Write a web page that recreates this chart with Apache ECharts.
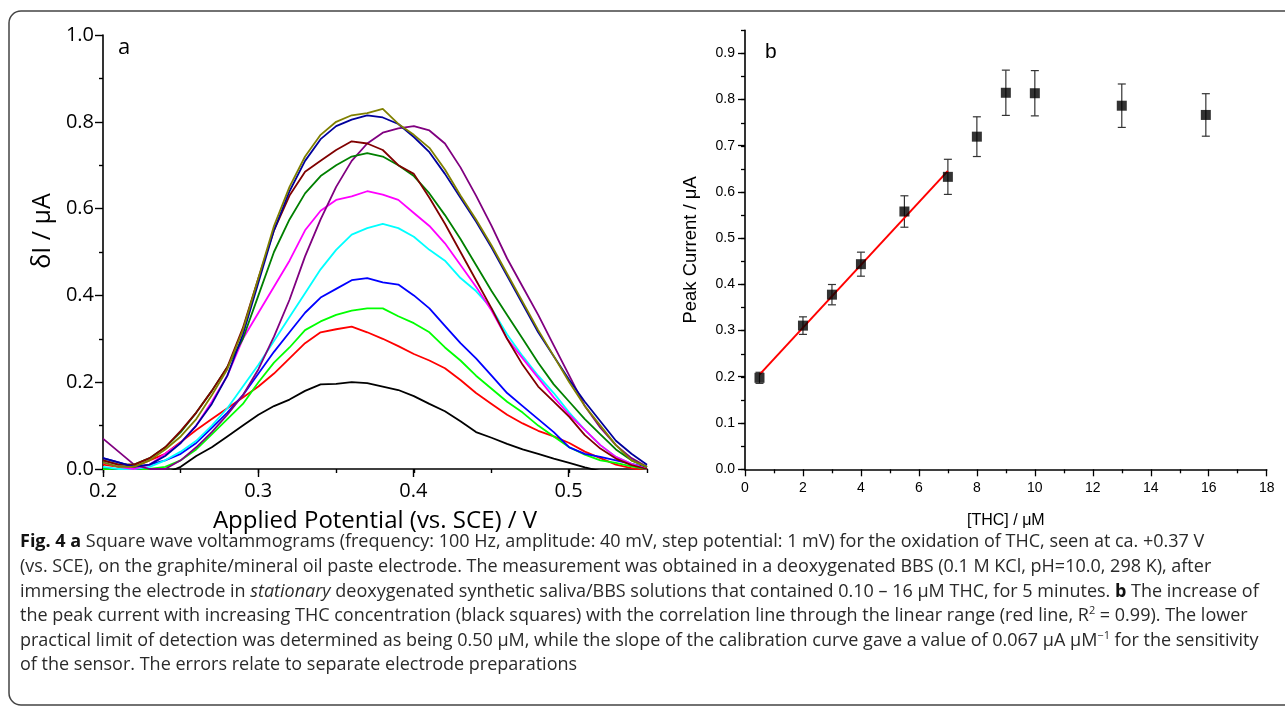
<!DOCTYPE html>
<html>
<head>
<meta charset="utf-8">
<title>Fig. 4</title>
<script src="https://cdn.jsdelivr.net/npm/echarts/dist/echarts.min.js"></script>
<style>
  html, body { margin: 0; padding: 0; background: #fff; }
  #main { width: 1285px; height: 709px; }
</style>
</head>
<body>
<div id="main"></div>
<script>
// panel a: square wave voltammograms, potential in V, current in uA
var potential = [0.20, 0.21, 0.22, 0.23, 0.24, 0.25, 0.26, 0.27, 0.28, 0.29,
                 0.30, 0.31, 0.32, 0.33, 0.34, 0.35, 0.36, 0.37, 0.38, 0.39,
                 0.40, 0.41, 0.42, 0.43, 0.44, 0.45, 0.46, 0.47, 0.48, 0.49,
                 0.50, 0.51, 0.52, 0.53, 0.54, 0.55];
var curveBlack = [-0.02, -0.02, -0.02, -0.02, -0.01, 0.005, 0.03, 0.05, 0.075, 0.10,
                  0.125, 0.145, 0.16, 0.18, 0.195, 0.196, 0.20, 0.198, 0.19, 0.182,
                  0.168, 0.15, 0.133, 0.11, 0.085, 0.072, 0.058, 0.045, 0.035, 0.024,
                  0.014, 0.004, -0.005, -0.01, -0.01, -0.01];
var curveRed = [0.01, 0.005, 0.005, 0.02, 0.035, 0.062, 0.09, 0.115, 0.14, 0.165,
                0.19, 0.22, 0.255, 0.29, 0.315, 0.322, 0.328, 0.315, 0.30, 0.283,
                0.265, 0.25, 0.232, 0.205, 0.175, 0.15, 0.125, 0.105, 0.088, 0.075,
                0.06, 0.04, 0.025, 0.01, 0.002, -0.005];
var curveLime = [0.0, -0.005, -0.005, 0.0, 0.005, 0.02, 0.045, 0.08, 0.115, 0.15,
                 0.20, 0.245, 0.28, 0.32, 0.34, 0.355, 0.365, 0.37, 0.37, 0.352,
                 0.336, 0.315, 0.28, 0.25, 0.215, 0.185, 0.155, 0.13, 0.10, 0.075,
                 0.05, 0.033, 0.02, 0.014, 0.006, 0.0];
var curveBlue = [0.025, 0.015, 0.005, 0.01, 0.02, 0.035, 0.06, 0.095, 0.13, 0.17,
                 0.22, 0.27, 0.315, 0.36, 0.395, 0.415, 0.435, 0.44, 0.43, 0.425,
                 0.40, 0.37, 0.33, 0.29, 0.255, 0.215, 0.175, 0.145, 0.115, 0.085,
                 0.05, 0.035, 0.028, 0.02, 0.012, 0.004];
var curveCyan = [0.005, 0.0, 0.0, 0.005, 0.02, 0.04, 0.065, 0.10, 0.14, 0.19,
                 0.24, 0.295, 0.35, 0.405, 0.46, 0.505, 0.54, 0.555, 0.565, 0.555,
                 0.535, 0.505, 0.48, 0.44, 0.41, 0.37, 0.31, 0.26, 0.215, 0.175,
                 0.13, 0.09, 0.055, 0.028, 0.012, 0.0];
var curveMagenta = [0.015, 0.005, 0.0, 0.01, 0.035, 0.06, 0.10, 0.155, 0.215, 0.30,
                    0.36, 0.42, 0.48, 0.55, 0.595, 0.62, 0.628, 0.64, 0.632, 0.62,
                    0.59, 0.56, 0.52, 0.47, 0.42, 0.365, 0.30, 0.255, 0.21, 0.165,
                    0.125, 0.09, 0.055, 0.028, 0.012, 0.0];
var curvePurple = [0.07, 0.04, 0.01, 0.0, 0.0, 0.02, 0.05, 0.085, 0.125, 0.17,
                   0.23, 0.305, 0.39, 0.49, 0.575, 0.65, 0.71, 0.75, 0.775, 0.785,
                   0.79, 0.78, 0.75, 0.695, 0.63, 0.56, 0.485, 0.42, 0.355, 0.285,
                   0.215, 0.145, 0.095, 0.055, 0.025, 0.005];
var curveGreen = [0.02, 0.01, 0.01, 0.025, 0.05, 0.085, 0.13, 0.18, 0.235, 0.30,
                  0.40, 0.50, 0.575, 0.635, 0.675, 0.70, 0.72, 0.728, 0.72, 0.70,
                  0.675, 0.635, 0.585, 0.53, 0.47, 0.41, 0.355, 0.30, 0.245, 0.195,
                  0.155, 0.115, 0.08, 0.045, 0.02, 0.005];
var curveMaroon = [0.02, 0.01, 0.01, 0.025, 0.05, 0.088, 0.13, 0.18, 0.235, 0.325,
                   0.44, 0.55, 0.63, 0.685, 0.71, 0.735, 0.755, 0.75, 0.735, 0.70,
                   0.68, 0.625, 0.565, 0.50, 0.435, 0.37, 0.30, 0.24, 0.19, 0.155,
                   0.12, 0.078, 0.047, 0.024, 0.009, 0.0];
var curveNavy = [0.025, 0.015, 0.005, 0.01, 0.03, 0.06, 0.10, 0.15, 0.215, 0.31,
                 0.43, 0.55, 0.64, 0.71, 0.76, 0.79, 0.805, 0.815, 0.81, 0.795,
                 0.765, 0.73, 0.68, 0.625, 0.57, 0.51, 0.445, 0.38, 0.315, 0.26,
                 0.205, 0.155, 0.11, 0.065, 0.035, 0.01];
var curveOlive = [0.015, 0.005, 0.005, 0.02, 0.045, 0.075, 0.115, 0.17, 0.23, 0.32,
                  0.44, 0.56, 0.65, 0.72, 0.77, 0.80, 0.815, 0.82, 0.83, 0.795,
                  0.77, 0.74, 0.69, 0.63, 0.575, 0.515, 0.45, 0.385, 0.32, 0.26,
                  0.20, 0.145, 0.10, 0.055, 0.02, 0.005];

// panel b: calibration
var thc = [0.5, 2, 3, 4, 5.5, 7, 8, 9, 10, 13, 15.9];
var peakCurrent = [0.198, 0.311, 0.378, 0.444, 0.558, 0.633, 0.720, 0.815, 0.814, 0.787, 0.767];
var peakError = [0.012, 0.019, 0.022, 0.026, 0.034, 0.038, 0.043, 0.049, 0.049, 0.047, 0.046];
var fitX = [0.5, 7];
var fitY = [0.205, 0.646];

var curves = [
  { data: curveBlack, color: '#000000' },
  { data: curveRed, color: '#ff0000' },
  { data: curveLime, color: '#00ff00' },
  { data: curveBlue, color: '#0000ff' },
  { data: curveCyan, color: '#00ffff' },
  { data: curveMagenta, color: '#ff00ff' },
  { data: curvePurple, color: '#800080' },
  { data: curveGreen, color: '#008000' },
  { data: curveMaroon, color: '#800000' },
  { data: curveNavy, color: '#00009c' },
  { data: curveOlive, color: '#808000' }
];

var fontA = '"Open Sans", "DejaVu Sans", sans-serif';
var fontB = '"Liberation Sans", Arial, sans-serif';
var axisLine = { show: true, lineStyle: { color: '#000', width: 1.6 } };

var chart = echarts.init(document.getElementById('main'));

var series = [];
curves.forEach(function (c, k) {
  series.push({
    type: 'line',
    xAxisIndex: 0,
    yAxisIndex: 0,
    symbol: 'none',
    z: 2 + k,
    lineStyle: { color: c.color, width: 1.8 },
    data: potential.map(function (p, i) { return [p, c.data[i]]; })
  });
});

series.push({
  type: 'custom',
  xAxisIndex: 2,
  yAxisIndex: 2,
  z: 5,
  data: thc.map(function (x, i) {
    return [x, peakCurrent[i] - peakError[i], peakCurrent[i] + peakError[i]];
  }),
  renderItem: function (params, api) {
    var hi = api.coord([api.value(0), api.value(2)]);
    var lo = api.coord([api.value(0), api.value(1)]);
    var st = { stroke: '#333', lineWidth: 1.2 };
    return {
      type: 'group',
      children: [
        { type: 'line', shape: { x1: hi[0], y1: hi[1], x2: lo[0], y2: lo[1] }, style: st },
        { type: 'line', shape: { x1: hi[0] - 4, y1: hi[1], x2: hi[0] + 4, y2: hi[1] }, style: st },
        { type: 'line', shape: { x1: lo[0] - 4, y1: lo[1], x2: lo[0] + 4, y2: lo[1] }, style: st }
      ]
    };
  }
});

series.push({
  type: 'line',
  xAxisIndex: 2,
  yAxisIndex: 2,
  symbol: 'none',
  z: 6,
  lineStyle: { color: '#ff0000', width: 2 },
  data: fitX.map(function (x, i) { return [x, fitY[i]]; })
});

series.push({
  type: 'scatter',
  xAxisIndex: 2,
  yAxisIndex: 2,
  symbol: 'rect',
  symbolSize: 10,
  z: 7,
  itemStyle: { color: '#000' },
  data: thc.map(function (x, i) { return [x, peakCurrent[i]]; })
});

var captionLines = [
  '{b|Fig. 4 a} Square wave voltammograms (frequency: 100 Hz, amplitude: 40 mV, step potential: 1 mV) for the oxidation of THC, seen at ca. +0.37 V',
  '(vs. SCE), on the graphite/mineral oil paste electrode. The measurement was obtained in a deoxygenated BBS (0.1 M KCl, pH=10.0, 298 K), after',
  'immersing the electrode in {i|stationary} deoxygenated synthetic saliva/BBS solutions that contained 0.10 \u2013 16 \u00b5M THC, for 5 minutes. {b|b} The increase of',
  'the peak current with increasing THC concentration (black squares) with the correlation line through the linear range (red line, R{s|2} = 0.99). The lower',
  'practical limit of detection was determined as being 0.50 \u00b5M, while the slope of the calibration curve gave a value of 0.067 \u00b5A \u00b5M{s|\u22121} for the sensitivity',
  'of the sensor. The errors relate to separate electrode preparations'
];
var capSize = 18;

chart.setOption({
  animation: false,
  backgroundColor: '#fff',
  grid: [
    { left: 103, top: 35, width: 544, height: 434, outerBoundsMode: 'none' },
    { left: 103, top: 35, width: 465.6, height: 434, outerBoundsMode: 'none' },
    { left: 745, top: 30.4, width: 521.7, height: 438.9, outerBoundsMode: 'none' },
    { left: 745, top: 53.3, width: 521.7, height: 415.8, outerBoundsMode: 'none' }
  ],
  xAxis: [
    {
      gridIndex: 0, type: 'value', min: 0.2, max: 0.55, interval: 0.05,
      axisLine: axisLine, splitLine: { show: false },
      axisTick: { show: true, length: 4, lineStyle: { color: '#000', width: 1.4 } },
      axisLabel: { show: false },
      name: 'Applied Potential (vs. SCE) / V', nameLocation: 'middle', nameGap: 40,
      nameTextStyle: { fontFamily: fontA, fontSize: 24, color: '#000' }
    },
    {
      gridIndex: 1, type: 'value', min: 0.2, max: 0.5, interval: 0.1,
      axisLine: { show: false }, splitLine: { show: false },
      axisTick: { show: true, length: 8, lineStyle: { color: '#000', width: 1.4 } },
      axisLabel: {
        margin: 12, fontFamily: fontA, fontSize: 20, color: '#000',
        formatter: function (v) { return v.toFixed(1); }
      }
    },
    {
      gridIndex: 2, type: 'value', min: 0, max: 18, interval: 2,
      axisLine: axisLine, splitLine: { show: false },
      axisTick: { show: true, length: 7, lineStyle: { color: '#000', width: 1.3 } },
      minorTick: { show: true, splitNumber: 2, length: 4, lineStyle: { color: '#000', width: 1.3 } },
      axisLabel: { margin: 12, fontFamily: fontB, fontSize: 14, color: '#000' },
      name: '[THC] / \u03bcM', nameLocation: 'middle', nameGap: 43,
      nameTextStyle: { fontFamily: fontB, fontSize: 16, color: '#000' }
    },
    { gridIndex: 3, type: 'value', min: 0, max: 18, show: false }
  ],
  yAxis: [
    {
      gridIndex: 0, type: 'value', min: 0, max: 1.0, interval: 0.2,
      axisLine: axisLine, splitLine: { show: false },
      axisTick: { show: true, length: 8, lineStyle: { color: '#000', width: 1.4 } },
      minorTick: { show: true, splitNumber: 2, length: 4, lineStyle: { color: '#000', width: 1.4 } },
      axisLabel: {
        margin: 9, fontFamily: fontA, fontSize: 20, color: '#000',
        formatter: function (v) { return v.toFixed(1); }
      },
      name: '\u03b4I / \u03bcA', nameLocation: 'middle', nameGap: 48,
      nameTextStyle: { fontFamily: fontA, fontSize: 25, color: '#000', padding: [0, 0, 0, 42] }
    },
    { gridIndex: 1, type: 'value', min: 0, max: 1.0, show: false },
    {
      gridIndex: 2, type: 'value', min: 0, max: 0.95, interval: 0.05,
      axisLine: axisLine, splitLine: { show: false },
      axisTick: { show: true, length: 4, lineStyle: { color: '#000', width: 1.3 } },
      axisLabel: { show: false },
      name: 'Peak Current / \u03bcA', nameLocation: 'middle', nameGap: 45,
      nameTextStyle: { fontFamily: fontB, fontSize: 18.5, color: '#000' }
    },
    {
      gridIndex: 3, type: 'value', min: 0, max: 0.9, interval: 0.1,
      axisLine: { show: false }, splitLine: { show: false },
      axisTick: { show: true, length: 7, lineStyle: { color: '#000', width: 1.3 } },
      axisLabel: {
        margin: 10, fontFamily: fontB, fontSize: 14, color: '#000',
        formatter: function (v) { return v.toFixed(1); }
      }
    }
  ],
  graphic: [
    {
      type: 'rect', silent: true, z: -1,
      shape: { x: 9, y: 11, width: 1300, height: 694, r: 12 },
      style: { fill: 'none', stroke: '#444', lineWidth: 1.5 }
    },
    { type: 'text', x: 118, y: 37, style: { text: 'a', font: '22px ' + fontA, fill: '#000' } },
    { type: 'text', x: 765, y: 42, style: { text: 'b', font: '21px ' + fontB, fill: '#000' } },
    {
      type: 'text', x: 20, y: 530,
      style: {
        text: captionLines.join('\n'),
        font: capSize + 'px ' + fontA,
        fill: '#2a2a2a',
        lineHeight: 24.6,
        rich: {
          b: { fontWeight: 'bold', fontFamily: fontA, fontSize: capSize, fill: '#111', lineHeight: 24.6 },
          i: { fontStyle: 'italic', fontFamily: fontA, fontSize: capSize, lineHeight: 24.6 },
          s: { fontFamily: fontA, fontSize: 11, verticalAlign: 'top', lineHeight: 24.6, padding: [2, 0, 0, 0] }
        }
      }
    }
  ],
  series: series
});
</script>
</body>
</html>
